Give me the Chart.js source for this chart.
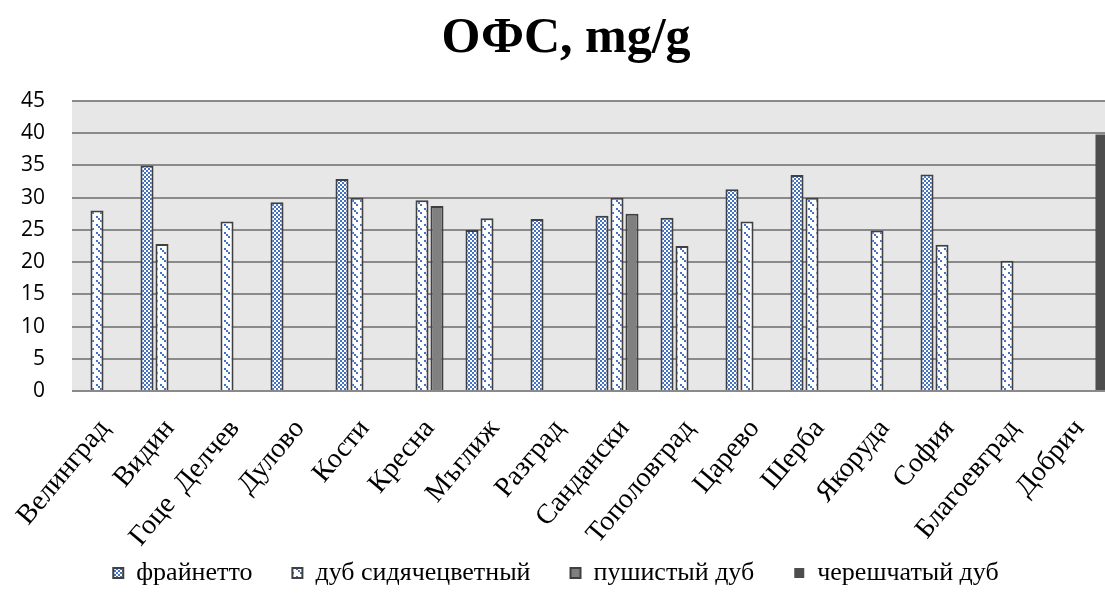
<!DOCTYPE html>
<html>
<head>
<meta charset="utf-8">
<script src="https://cdn.jsdelivr.net/npm/chart.js@4"></script>
<style>
  body { margin: 0; overflow: hidden; background: #fff; }
  #wrap { width: 1125px; height: 606px; }
</style>
</head>
<body>
<div id="wrap"><canvas id="my-chart" width="1125" height="606"></canvas></div>
<script>
const towns = ['Велинград', 'Видин', 'Гоце  Делчев', 'Дулово', 'Кости', 'Кресна', 'Мъглиж', 'Разград',
  'Сандански', 'Тополовград', 'Царево', 'Шерба', 'Якоруда', 'София', 'Благоевград', 'Добрич'];

const frainetto = [null, 35.0, null, 29.3, 32.9, null, 25.0, 26.7, 27.2, 26.9, 31.3, 33.5, null, 33.6, null, null];
const sessile   = [28.0, 22.8, 26.3, null, 30.0, 29.6, 26.8, null, 30.0, 22.5, 26.3, 30.0, 24.9, 22.7, 20.2, null];
const downy     = [null, null, null, null, null, 28.7, null, null, 27.5, null, null, null, null, null, null, null];
const pedunc    = [null, null, null, null, null, null, null, null, null, null, null, null, null, null, null, 39.8];

const yTicks = [0, 5, 10, 15, 20, 25, 30, 35, 40, 45];

// little tiles for the excel-like fills
function checker() {
  const c = document.createElement('canvas');
  c.width = 4; c.height = 4;
  const g = c.getContext('2d');
  g.fillStyle = '#fff'; g.fillRect(0, 0, 4, 4);
  g.fillStyle = '#4472c4';
  g.fillRect(0, 0, 2, 2); g.fillRect(2, 2, 2, 2);
  return g.createPattern(c, 'repeat');
}
function diag() {
  const c = document.createElement('canvas');
  c.width = 8; c.height = 8;
  const g = c.getContext('2d');
  g.fillStyle = '#fff'; g.fillRect(0, 0, 8, 8);
  g.fillStyle = '#4472c4';
  g.fillRect(0, 0, 2, 2); g.fillRect(2, 2, 2, 2); g.fillRect(4, 4, 2, 2);
  return g.createPattern(c, 'repeat');
}

const plotBg = {
  id: 'plotBg',
  afterLayout(chart) {
    // original title sits a little right of the canvas middle
    if (chart.titleBlock) chart.titleBlock.left += 20;
  },
  beforeDraw(chart) {
    const a = chart.chartArea, ctx = chart.ctx;
    ctx.save();
    ctx.fillStyle = '#e7e7e7';
    ctx.fillRect(a.left, a.top, a.right - a.left, a.bottom - a.top);
    ctx.restore();
  }
};

Chart.defaults.color = '#000';

const ctx = document.getElementById('my-chart').getContext('2d');
const chart = new Chart(ctx, {
  type: 'bar',
  data: {
    labels: towns,
    datasets: [
      { label: 'фрайнетто', data: frainetto, backgroundColor: checker(), borderColor: '#404040', borderWidth: 2 },
      { label: 'дуб сидячецветный', data: sessile, backgroundColor: diag(), borderColor: '#404040', borderWidth: 2 },
      { label: 'пушистый дуб', data: downy, backgroundColor: '#808080', borderColor: '#404040', borderWidth: 2 },
      { label: 'черешчатый дуб', data: pedunc, backgroundColor: '#4d4d4d', borderColor: '#4d4d4d', borderWidth: 0 }
    ]
  },
  options: {
    responsive: false,
    animation: false,
    categoryPercentage: 0.923,
    barPercentage: 0.87,
    layout: { padding: { left: 0, right: 13, top: 0, bottom: 10 } },
    plugins: {
      title: {
        display: true,
        text: 'ОФС, mg/g',
        font: { family: 'Liberation Serif', size: 50, weight: 'bold' },
        padding: { top: 9, bottom: 32 }
      },
      legend: {
        position: 'bottom',
        labels: {
          font: { family: 'Liberation Serif', size: 26 },
          boxWidth: 10,
          boxHeight: 10,
          padding: 40
        }
      },
      tooltip: { enabled: false }
    },
    scales: {
      x: {
        grid: { display: false },
        border: { display: false },
        ticks: {
          font: { family: 'Liberation Serif', size: 28 },
          maxRotation: 50,
          minRotation: 50,
          autoSkip: false,
          padding: 14
        },
        afterFit(s) {
          s.height = 129;
          // let the slanted names run down into the empty top of the legend box
          s._computeLabelArea = () => undefined;
        }
      },
      y: {
        min: 0,
        max: 45,
        afterBuildTicks(s) { s.ticks = yTicks.map(v => ({ value: v })); },
        grid: { color: '#8a8a8a', lineWidth: 2, drawTicks: false },
        border: { display: false },
        ticks: {
          font: { family: 'Open Sans', size: 21 },
          padding: 27
        },
        afterFit(s) { s.width = 72; }
      }
    }
  },
  plugins: [plotBg]
});
</script>
</body>
</html>
